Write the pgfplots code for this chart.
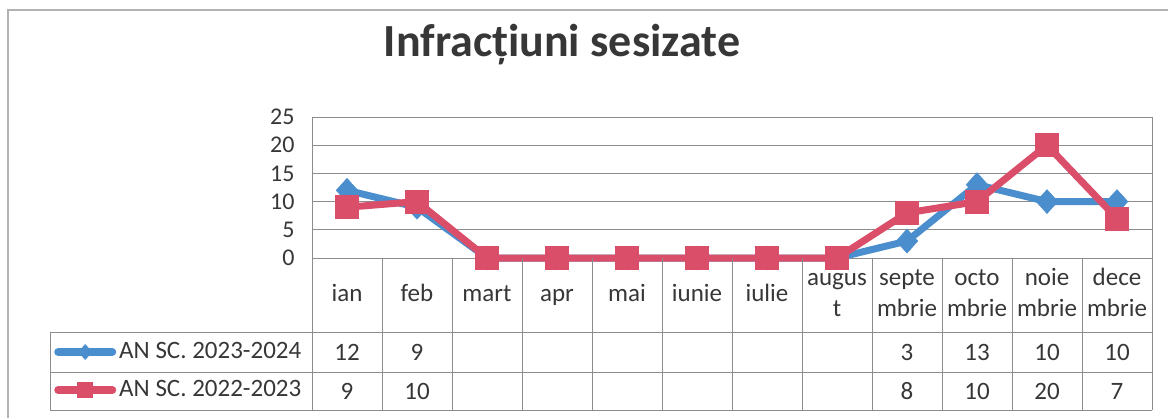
\documentclass[border=0pt]{standalone}
\usepackage{fontspec}
\setmainfont{Carlito}
\usepackage{pgfplots}
\pgfplotsset{compat=1.18}
\definecolor{sblue}{RGB}{75,142,205}
\definecolor{sred}{RGB}{218,78,106}
\definecolor{gridc}{RGB}{140,140,140}
\definecolor{txt}{RGB}{55,55,55}
\begin{document}
\begin{tikzpicture}[x=1pt,y=1pt]
\path[use as bounding box] (0,0) rectangle (1168,418);
\draw[black!30, line width=1.2pt] (8,0) -- (8,408) -- (1168,408);
\node[anchor=base, font=\fontsize{46}{52}\selectfont\bfseries, text=txt] at (562,361) {Infracțiuni sesizate};
\begin{axis}[at={(312pt,160pt)}, anchor=south west, scale only axis, width=840pt, height=141pt,
 xmin=0.5, xmax=12.5, ymin=0, ymax=25, ytick={0,5,...,25}, xtick={1,...,12},
 xticklabels={{\strut ian},{\strut feb},{\strut mart},{\strut apr},{\strut mai},{\strut iunie},{\strut iulie},{\strut augus\\\strut t},{\strut septe\\\strut mbrie},{\strut octo\\\strut mbrie},{\strut noie\\\strut mbrie},{\strut dece\\\strut mbrie}},
 xticklabel style={align=center, anchor=center, yshift=-37pt, font=\fontsize{25}{31}\selectfont, text=txt},
 yticklabel style={font=\fontsize{24}{28}\selectfont, text=txt, xshift=-14pt},
 major tick length=0pt,
 ymajorgrids, grid style={gridc, line width=0.8pt},
 axis line style={gridc, line width=0.8pt},
 clip=false,
 /pgf/number format/assume math mode=true,
 legend style={draw=none, fill=none, at={(-0.3071,-0.8014)}, anchor=west,
   legend cell align=left, font=\fontsize{25}{30}\selectfont, text=txt,
   row sep=16pt, column sep=0pt, inner sep=0pt,
   nodes={inner xsep=3pt, inner ysep=0pt, text height=17pt, text depth=5pt}},
 legend image code/.code={\draw[#1, line cap=round, mark repeat=2, mark phase=2, mark size=7.5pt, line width=8pt] plot coordinates {(0pt,0pt) (27pt,0pt) (54pt,0pt)};},
]
\addplot[sblue, line width=7pt, mark=diamond*, mark size=12pt, mark options={line width=0.5pt, fill=sblue, xscale=1.2}] coordinates {
(1,12) (2,9) (3,0) (4,0) (5,0) (6,0) (7,0) (8,0) (9,3) (10,13) (11,10) (12,10)};
\addlegendentry{AN SC. 2023-2024}
\addplot[sred, line width=7pt, mark=square*, mark size=11.5pt, mark options={line width=0.5pt, fill=sred}] coordinates {
(1,9) (2,10) (3,0) (4,0) (5,0) (6,0) (7,0) (8,0) (9,8) (10,10) (11,20) (12,7)};
\addlegendentry{AN SC. 2022-2023}
\end{axis}
\begin{scope}[gridc, line width=0.8pt]
\draw (50,86) -- (1152,86);
\draw (50,46) -- (1152,46);
\draw (50,8) -- (1152,8);
\draw (50,8) -- (50,86);
\foreach \k in {0,...,12} \draw ({312+70*\k},160) -- ({312+70*\k},8);
\end{scope}
\begin{scope}[font=\fontsize{25}{30}\selectfont, text=txt]
\foreach \k/\v in {1/12,2/9,9/3,10/13,11/10,12/10} \node at ({277+70*\k},66) {\v};
\foreach \k/\v in {1/9,2/10,9/8,10/10,11/20,12/7} \node at ({277+70*\k},27) {\v};
\end{scope}
\end{tikzpicture}
\end{document}
